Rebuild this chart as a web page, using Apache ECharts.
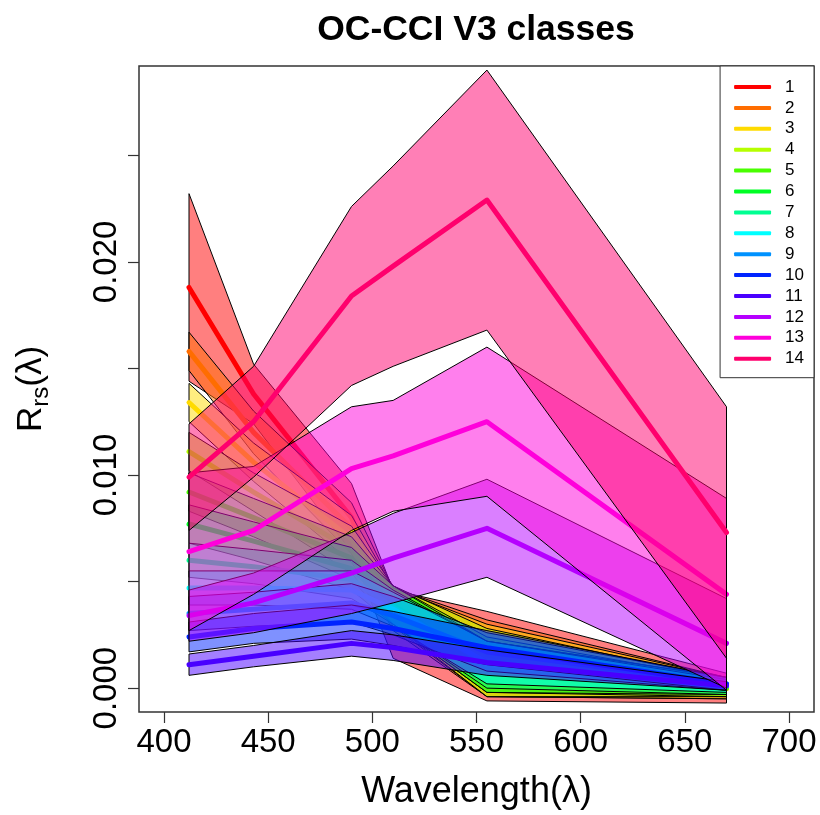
<!DOCTYPE html>
<html>
<head>
<meta charset="UTF-8">
<title>OC-CCI V3 classes</title>
<script src="https://cdn.jsdelivr.net/npm/echarts@6/dist/echarts.min.js"></script>
<style>
  html, body { margin: 0; padding: 0; background: #fff; }
  #chart { width: 820px; height: 815px; }
</style>
</head>
<body>
<div id="chart"></div>
<script>
// wavelengths (nm) of the OC-CCI bands
var wavelengths = [412, 443, 490, 510, 555, 670];
var classNames = ['1', '2', '3', '4', '5', '6', '7', '8', '9', '10', '11', '12', '13', '14'];
// R rainbow(14)
var classColors = ['#FF0000', '#FF6D00', '#FFDB00', '#B6FF00', '#49FF00', '#00FF24', '#00FF92',
                   '#00FFFF', '#0092FF', '#0024FF', '#4900FF', '#B600FF', '#FF00DB', '#FF006D'];

// class mean Rrs, one row per class
var meanRrs = [
  [0.0188, 0.0138, 0.0080, 0.0030, 0.0015, 0.0000],
  [0.0158, 0.0120, 0.0075, 0.0037, 0.0014, 0.0000],
  [0.0134, 0.0106, 0.0070, 0.0038, 0.0013, 0.0000],
  [0.0111, 0.0092, 0.0065, 0.0039, 0.0012, 0.0000],
  [0.0092, 0.0080, 0.0061, 0.0039, 0.0011, 0.0000],
  [0.0077, 0.0069, 0.0056, 0.0039, 0.0010, 0.0001],
  [0.0060, 0.0057, 0.0051, 0.0038, 0.0011, 0.0001],
  [0.0047, 0.0047, 0.0046, 0.0037, 0.0012, 0.0001],
  [0.0035, 0.0037, 0.0040, 0.0034, 0.0017, 0.0002],
  [0.0024, 0.0028, 0.0031, 0.0028, 0.0019, 0.0002],
  [0.0011, 0.0015, 0.0021, 0.0019, 0.0012, 0.0001],
  [0.0034, 0.0040, 0.0054, 0.0061, 0.0075, 0.0021],
  [0.0064, 0.0074, 0.0103, 0.0109, 0.0125, 0.0044],
  [0.0099, 0.0125, 0.0184, 0.0198, 0.0229, 0.0073]
];
// class standard deviation (band = mean +/- sd)
var sdRrs = [
  [0.0044, 0.0014, 0.0016, 0.0016, 0.0021, 0.0007],
  [0.0009, 0.0010, 0.0012, 0.0010, 0.0018, 0.0005],
  [0.0009, 0.0009, 0.0011, 0.0009, 0.0017, 0.0005],
  [0.0009, 0.0009, 0.0011, 0.0009, 0.0016, 0.0004],
  [0.0009, 0.0009, 0.0010, 0.0009, 0.0013, 0.0004],
  [0.0009, 0.0009, 0.0010, 0.0009, 0.0012, 0.0004],
  [0.0008, 0.0008, 0.0009, 0.0008, 0.0011, 0.0004],
  [0.0008, 0.0008, 0.0009, 0.0008, 0.0010, 0.0003],
  [0.0008, 0.0008, 0.0009, 0.0009, 0.0009, 0.0003],
  [0.0007, 0.0007, 0.0008, 0.0008, 0.0008, 0.0003],
  [0.0005, 0.0005, 0.0006, 0.0006, 0.0006, 0.0002],
  [0.0012, 0.0014, 0.0019, 0.0021, 0.0023, 0.0021],
  [0.0037, 0.0030, 0.0029, 0.0026, 0.0035, 0.0045],
  [0.0025, 0.0026, 0.0042, 0.0047, 0.0061, 0.0059]
];

var xTicks = [400, 450, 500, 550, 600, 650, 700];
var yTicks = [0, 0.005, 0.010, 0.015, 0.020, 0.025];
var yLabels = [0, 0.010, 0.020];

function withAlpha(hex, a) {
  var r = parseInt(hex.slice(1, 3), 16), g = parseInt(hex.slice(3, 5), 16), b = parseInt(hex.slice(5, 7), 16);
  return 'rgba(' + r + ',' + g + ',' + b + ',' + a + ')';
}

var series = [];
classNames.forEach(function (name, ci) {
  // shaded band: mean + sd along the top, mean - sd back along the bottom
  series.push({
    name: 'band' + name,
    type: 'custom',
    z: 10 + ci * 2,
    data: [[ci]],
    silent: true,
    renderItem: function (params, api) {
      var pts = [];
      for (var j = 0; j < wavelengths.length; j++) {
        pts.push(api.coord([wavelengths[j], meanRrs[ci][j] + sdRrs[ci][j]]));
      }
      for (var k = wavelengths.length - 1; k >= 0; k--) {
        pts.push(api.coord([wavelengths[k], meanRrs[ci][k] - sdRrs[ci][k]]));
      }
      return {
        type: 'polygon',
        shape: { points: pts },
        style: { fill: withAlpha(classColors[ci], 0.5), stroke: '#000', lineWidth: 1 }
      };
    }
  });
  // class mean spectrum
  series.push({
    name: name,
    type: 'line',
    z: 11 + ci * 2,
    color: classColors[ci],
    showSymbol: false,
    silent: true,
    lineStyle: { width: 5, color: classColors[ci], cap: 'round', join: 'round' },
    data: wavelengths.map(function (w, j) { return [w, meanRrs[ci][j]]; })
  });
});

var chart = echarts.init(document.getElementById('chart'));
chart.setOption({
  animation: false,
  backgroundColor: '#fff',
  title: {
    text: 'OC-CCI V3 classes',
    left: 476,
    top: 12,
    padding: 0,
    textAlign: 'center',
    textStyle: { fontFamily: 'Liberation Sans', fontWeight: 'bold', fontSize: 35.5, color: '#000' }
  },
  legend: {
    data: classNames,
    orient: 'vertical',
    right: 6,
    top: 66,
    z: 100,
    padding: [12, 10, 10, 14],
    itemWidth: 37,
    itemHeight: 4,
    itemGap: 2.9,
    icon: 'roundRect',
    selectedMode: false,
    borderColor: '#333',
    borderWidth: 1,
    backgroundColor: '#fff',
    textStyle: { fontFamily: 'Liberation Sans', fontSize: 17, color: '#000', lineHeight: 18, padding: [0, 0, 0, 9] }
  },
  grid: {
    left: 139, right: 6, top: 66, bottom: 101,
    show: true, borderColor: '#333', borderWidth: 1.5
  },
  xAxis: {
    type: 'value',
    min: 388, max: 712,
    name: 'Wavelength(λ)',
    nameLocation: 'middle',
    nameGap: 62,
    nameTextStyle: { fontFamily: 'Liberation Sans', fontSize: 36, color: '#000' },
    axisLine: { show: false, onZero: false },
    splitLine: { show: false },
    axisTick: { show: true, inside: false, length: 11, lineStyle: { color: '#333', width: 1.2 }, customValues: xTicks },
    axisLabel: { fontFamily: 'Liberation Sans', fontSize: 33, color: '#000', margin: 14, customValues: xTicks }
  },
  yAxis: {
    type: 'value',
    min: -0.00112, max: 0.02919,
    name: '{r|R}{s|rs}{r|(λ)}',
    nameLocation: 'middle',
    nameGap: 86,
    nameRotate: 90,
    nameTextStyle: {
      rich: {
        r: { fontFamily: 'Liberation Sans', fontSize: 35, color: '#000', lineHeight: 44 },
        s: { fontFamily: 'Liberation Sans', fontSize: 24, color: '#000', lineHeight: 44, verticalAlign: 'bottom' }
      }
    },
    axisLine: { show: false, onZero: false },
    splitLine: { show: false },
    axisTick: { show: true, inside: false, length: 11, lineStyle: { color: '#333', width: 1.2 }, customValues: yTicks },
    axisLabel: {
      fontFamily: 'Liberation Sans', fontSize: 33, color: '#000', margin: 16, rotate: 90,
      customValues: yLabels,
      formatter: function (v) { return v.toFixed(3); }
    }
  },
  series: series
});
</script>
</body>
</html>
